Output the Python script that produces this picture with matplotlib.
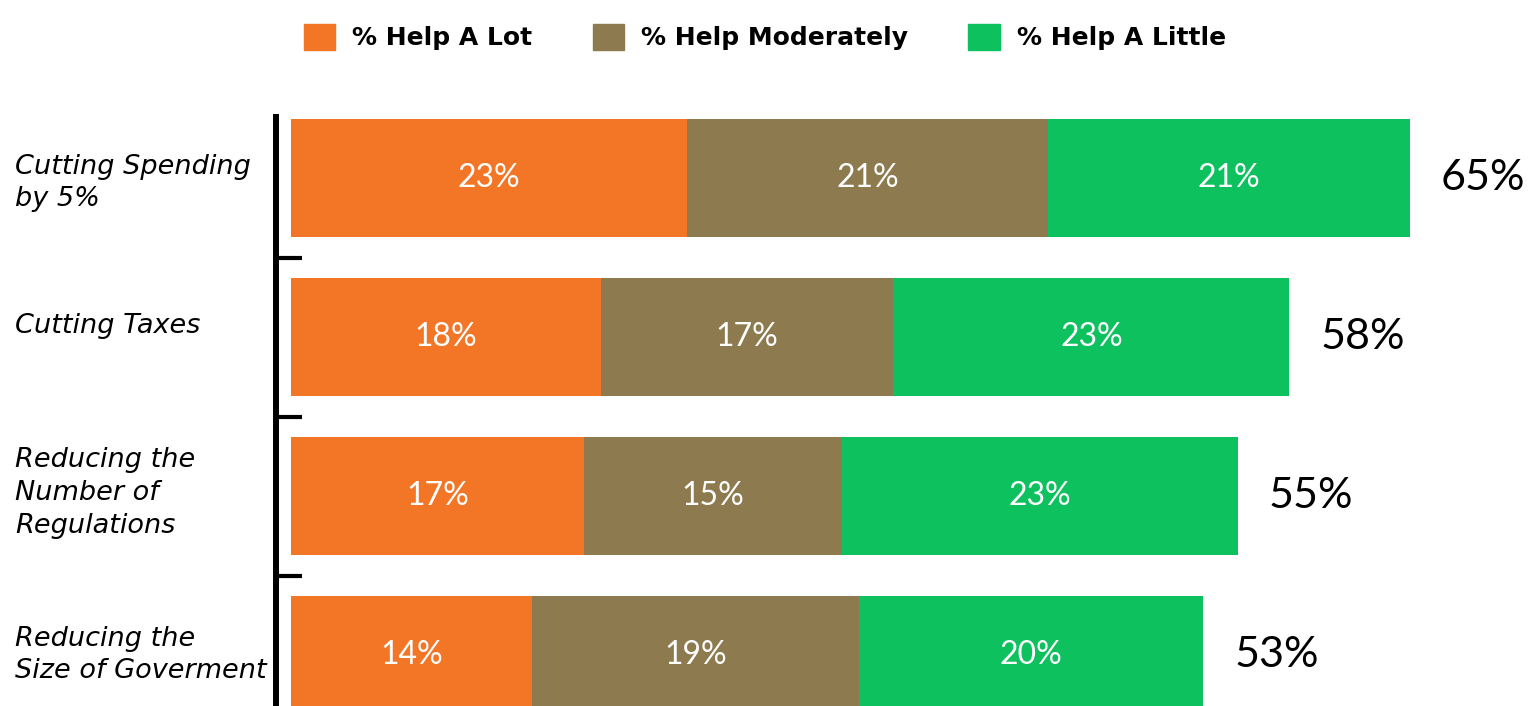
import matplotlib.pyplot as plt
from matplotlib.patches import Patch

categories = ["Cutting Spending\nby 5%", "Cutting Taxes", "Reducing the\nNumber of\nRegulations",
              "Reducing the\nSize of Goverment"]
help_lot = [23, 18, 17, 14]
help_mod = [21, 17, 15, 19]
help_little = [21, 23, 23, 20]
totals = [65, 58, 55, 53]
series_names = ["% Help A Lot", "% Help Moderately", "% Help A Little"]
colors = ["#F37627", "#8D7A4F", "#0CC15E"]

plt.rcParams['font.family'] = ['Lato', 'DejaVu Sans']

fig = plt.figure(figsize=(15.39, 7.06), dpi=100)
# axes from spine (x=276) to right edge, y 117..706
ax = fig.add_axes([276/1539, 0, 1 - 276/1539, (706-117)/706])

ypos = list(range(len(categories)))
left = [0]*len(categories)
for vals, col in zip([help_lot, help_mod, help_little], colors):
    ax.barh(ypos, vals, left=left, height=0.74, color=col)
    for y, v, l in zip(ypos, vals, left):
        ax.text(l + v/2, y, f"{v}%", ha='center', va='center', color='white',
                fontsize=23)
    left = [a + b for a, b in zip(left, vals)]

for y, t in zip(ypos, totals):
    ax.text(t + 1.8, y, f"{t}%", ha='left', va='center', color='black', fontsize=31)

ax.set_xlim(-0.87, 72.5)
ax.set_ylim(3.32, -0.384)

for s in ['top', 'right', 'bottom']:
    ax.spines[s].set_visible(False)
ax.spines['left'].set_linewidth(4.3)
ax.set_xticks([])
ax.set_yticks([0.5, 1.5, 2.5])
ax.set_yticklabels([])
ax.tick_params(axis='y', direction='in', length=19, width=3)

label_shift = [0.03, -0.07, -0.02, 0.0]
for y, c, d in zip(ypos, categories, label_shift):
    ax.text(-0.87 - 261/17.2, y + d, c, ha='left', va='center', fontsize=19.5, style='italic',
            family='DejaVu Sans', linespacing=1.33, clip_on=False)

handles = [Patch(color=c, label=n) for c, n in zip(colors, series_names)]
fig.legend(handles=handles, loc='center', bbox_to_anchor=(765/1539, 1 - 37/706), ncol=3,
           frameon=False, prop={'size': 18, 'weight': 'bold', 'family': 'DejaVu Sans'},
           handlelength=1.25, handleheight=1.25, handletextpad=0.7, columnspacing=2.4)

fig.savefig("out.png", dpi=100)
